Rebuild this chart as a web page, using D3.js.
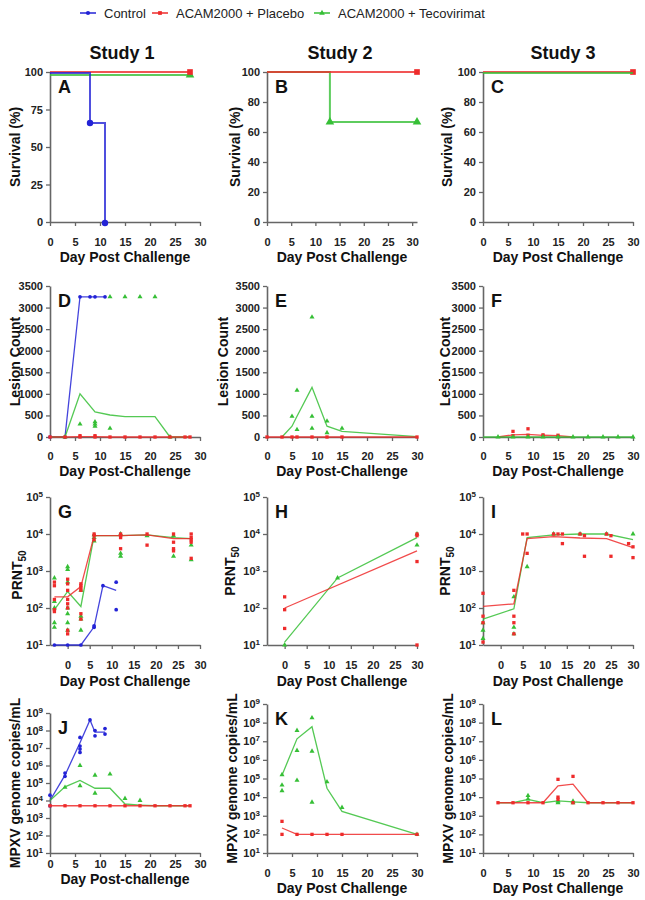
<!DOCTYPE html>
<html>
<head>
<meta charset="utf-8">
<script src="https://cdn.jsdelivr.net/npm/d3@7"></script>
<style>
body { margin: 0; background: #fff; }
text { font-family: "Liberation Sans", Arial, sans-serif; }
</style>
</head>
<body>
<div id="mainDiv"></div>
<script>
// ---- survival (% alive) ----
var s1Control = [[0, 100], [8, 66.7], [11, 0]];
var s1Placebo = [[0, 100], [28, 100]];
var s1Teco = [[0, 100], [28, 100]];
var s2Placebo = [[0, 100], [31, 100]];
var s2Teco = [[0, 100], [13, 66.7], [31, 66.7]];
var s3Placebo = [[0, 100], [30, 100]];
var s3Teco = [[0, 100], [30, 100]];

// ---- lesion counts ----
var d1ControlMean = [[0, 0], [3, 0], [6, 3250], [8, 3250], [9, 3250], [11, 3250]];
var d1ControlDots = [[0, 0], [3, 0], [6, 3250], [8, 3250], [9, 3250], [11, 3250]];
var d1PlaceboMean = [[0, 0], [3, 0], [6, 10], [9, 10], [12, 0], [15, 0], [18, 0], [21, 0], [24, 0], [27, 0], [28, 0]];
var d1PlaceboDots = [[0, 0], [3, 0], [6, 30], [6, 0], [9, 30], [9, 0], [12, 0], [15, 0], [18, 0], [21, 0], [24, 0], [27, 0], [28, 0]];
var d1TecoMean = [[0, 0], [3, 0], [6, 1000], [9, 580], [12, 510], [15, 470], [18, 470], [21, 470], [24, 0], [27, 0], [28, 0]];
var d1TecoDots = [[3, 0], [6, 300], [9, 350], [9, 300], [9, 250], [12, 200], [12, 3250], [15, 3250], [18, 3250], [21, 3250], [24, 0]];

var e2PlaceboMean = [[0, 0], [3, 0], [5, 0], [6, 0], [9, 0], [12, 0], [15, 0], [30, 0]];
var e2PlaceboDots = [[0, 0], [3, 0], [5, 0], [6, 0], [9, 0], [12, 0], [15, 0], [30, 0]];
var e2TecoMean = [[3, 0], [5, 250], [6, 480], [9, 1150], [12, 250], [15, 130], [30, 10]];
var e2TecoDots = [[5, 480], [6, 1080], [6, 170], [9, 2780], [9, 480], [9, 200], [12, 370], [12, 100], [15, 200]];

var f3PlaceboMean = [[3, 0], [6, 50], [9, 60], [12, 40], [15, 30], [18, 0]];
var f3PlaceboDots = [[6, 130], [6, 30], [9, 190], [9, 40], [12, 50], [12, 20], [15, 40], [15, 10]];
var f3TecoMean = [[0, 0], [3, 0], [6, 0], [9, 0], [12, 0], [15, 0], [18, 0], [21, 0], [24, 0], [27, 0], [30, 0]];
var f3TecoDots = [[3, 0], [6, 0], [9, 0], [12, 0], [15, 0], [18, 0], [21, 0], [24, 0], [27, 0], [30, 0]];

// ---- PRNT50 titres ----
var g1ControlMean = [[-3, 10], [0, 10], [3, 10], [6, 31], [8, 400], [11, 300]];
var g1ControlDots = [[-3, 10], [0, 10], [3, 10], [6, 30], [6, 33], [8, 400], [11, 500], [11, 90]];
var g1PlaceboMean = [[-3, 200], [0, 200], [3, 380], [6, 9000], [12, 9000], [18, 9500], [24, 7500], [28, 7500]];
var g1PlaceboDots = [[-3, 500], [-3, 400], [-3, 170], [-3, 90], [-3, 80], [0, 600], [0, 450], [0, 300], [0, 170],
  [0, 130], [0, 100], [0, 25], [0, 20], [3, 450], [3, 400], [3, 350], [3, 300], [3, 70], [3, 50],
  [6, 10000], [6, 9000], [6, 7000], [12, 10000], [12, 9000], [12, 8000], [12, 4000], [18, 10000], [18, 5000],
  [24, 10000], [24, 6000], [24, 4000], [24, 3500], [28, 10000], [28, 8000], [28, 7000], [28, 6000], [28, 2200]];
var g1TecoMean = [[-3, 90], [0, 280], [3, 110], [6, 9000], [12, 9000], [18, 9500], [24, 8000], [28, 7500]];
var g1TecoDots = [[-3, 650], [-3, 150], [-3, 100], [-3, 40], [-3, 30], [0, 1300], [0, 1100], [0, 500], [0, 100],
  [0, 70], [0, 40], [0, 25], [3, 300], [3, 60], [3, 50], [3, 25], [6, 9500], [6, 8000], [6, 6500],
  [12, 10000], [12, 3000], [12, 2500], [18, 9000], [24, 9000], [24, 2500], [28, 5000], [28, 2000]];

var h2PlaceboMean = [[0, 100], [30, 3500]];
var h2PlaceboDots = [[0, 200], [0, 90], [0, 28], [30, 10000], [30, 9000], [30, 1800], [30, 10]];
var h2TecoMean = [[0, 12], [12, 650], [30, 8000]];
var h2TecoDots = [[0, 10], [12, 650], [30, 10000], [30, 5000]];

var i3PlaceboMean = [[-4, 110], [3, 130], [6, 7500], [12, 8500], [18, 7800], [24, 7500], [30, 4300]];
var i3PlaceboDots = [[-4, 250], [-4, 60], [-4, 40], [-4, 12], [3, 300], [3, 60], [3, 40], [3, 20],
  [5, 10000], [6, 10000], [6, 3000], [12, 10000], [13, 10000], [14, 10000], [14, 5500], [18, 10000], [19, 9000],
  [19, 2500], [24, 10000], [25, 9000], [25, 2500], [29, 5500], [30, 4500], [30, 2300]];
var i3TecoMean = [[-4, 50], [3, 95], [6, 8000], [12, 9500], [18, 10000], [24, 10000], [30, 7000]];
var i3TecoDots = [[-4, 40], [-4, 25], [-4, 15], [3, 200], [3, 30], [3, 20], [6, 1300], [12, 10000],
  [18, 10000], [24, 10000], [30, 10000]];

// ---- MPXV genome copies/mL ----
var j1ControlMean = [[0, 10000], [3, 280000], [6, 2e7], [8, 4e8], [9, 8e7], [11, 8e7]];
var j1ControlDots = [[0, 20000], [0, 5000], [3, 370000], [3, 240000], [6, 4e7], [6, 1.3e7], [6, 8.7e6], [6, 5.6e6],
  [8, 4e8], [9, 1e8], [9, 5e7], [11, 1.3e8], [11, 6.3e7]];
var j1PlaceboMean = [[0, 5000], [3, 5000], [6, 5000], [9, 5000], [12, 5000], [15, 5000], [18, 5000], [21, 5000], [24, 5000], [27, 5000], [28, 5000]];
var j1PlaceboDots = [[0, 5000], [3, 5000], [6, 5000], [9, 5000], [12, 5000], [15, 5000], [18, 5000], [21, 5000], [24, 5000], [27, 5000], [28, 5000]];
var j1TecoMean = [[0, 10000], [3, 60000], [6, 140000], [9, 50000], [12, 50000], [15, 6300], [18, 5500], [21, 5000], [24, 5000], [27, 5000], [28, 5000]];
var j1TecoDots = [[3, 56000], [6, 1e6], [6, 70000], [9, 280000], [9, 26000], [12, 320000], [15, 13000], [18, 10000]];

var k2PlaceboMean = [[3, 220], [6, 100], [9, 100], [12, 100], [15, 100], [30, 100]];
var k2PlaceboDots = [[3, 500], [3, 100], [6, 100], [9, 100], [12, 100], [15, 100], [30, 100]];
var k2TecoMean = [[3, 150000], [6, 1.35e7], [9, 6e7], [12, 30000], [15, 1700], [30, 100]];
var k2TecoDots = [[3, 160000], [3, 44000], [3, 22000], [6, 3.8e7], [6, 3.2e6], [6, 80000], [9, 1.8e8], [9, 2.9e6],
  [9, 5300], [12, 66000], [15, 2800], [30, 100]];

var l3PlaceboMean = [[3, 5000], [6, 5000], [9, 5000], [12, 5000], [15, 40000], [18, 50000], [21, 5000], [24, 5000], [27, 5000], [30, 5000]];
var l3PlaceboDots = [[3, 5000], [6, 5000], [9, 5000], [12, 5000], [15, 90000], [15, 10000], [15, 7600], [18, 130000],
  [18, 5000], [21, 5000], [24, 5000], [27, 5000], [30, 5000]];
var l3TecoMean = [[3, 5000], [6, 5000], [9, 7600], [12, 5000], [15, 6300], [18, 5500], [21, 5000], [24, 5000], [27, 5000], [30, 5000]];
var l3TecoDots = [[9, 12000], [9, 8000], [15, 6000], [15, 5000], [18, 6000], [18, 5000]];

// ---- labels ----
var groupNames = ["Control", "ACAM2000 + Placebo", "ACAM2000 + Tecovirimat"];
var studyNames = ["Study 1", "Study 2", "Study 3"];
var dayTicks = [0, 5, 10, 15, 20, 25, 30];
var survTicksA = [0, 25, 50, 75, 100];
var survTicksBC = [0, 20, 40, 60, 80, 100];
var lesionTicks = [0, 500, 1000, 1500, 2000, 2500, 3000, 3500];
var prntTicks = [1e1, 1e2, 1e3, 1e4, 1e5];
var copyTicks = [1e1, 1e2, 1e3, 1e4, 1e5, 1e6, 1e7, 1e8, 1e9];

var colors = { c: "#2323d6", p: "#ee2b2b", t: "#36bf36" };
var shapes = { c: d3.symbolCircle, p: d3.symbolSquare, t: d3.symbolTriangle };

var mainDiv = d3.select("#mainDiv");
var mySvg = mainDiv.append("svg")
                   .attr("width", 645)
                   .attr("height", 900);

var colLeft = [50, 267, 483];

// legend
var legX = [80, 152, 314];
groupNames.forEach(function (name, i) {
    var k = ["c", "p", "t"][i];
    mySvg.append("line")
         .attr("x1", legX[i]).attr("x2", legX[i] + 16)
         .attr("y1", 13).attr("y2", 13)
         .attr("stroke", colors[k]).attr("stroke-width", 1.5);
    mySvg.append("path")
         .attr("d", d3.symbol().type(shapes[k]).size(14)())
         .attr("transform", "translate(" + (legX[i] + 8) + ",13)")
         .attr("fill", colors[k]);
    mySvg.append("text")
         .text(name)
         .attr("x", legX[i] + 24)
         .attr("y", 18)
         .attr("font-size", 13)
         .attr("fill", "#222");
});

// study titles
[122, 340, 563].forEach(function (cx, i) {
    mySvg.append("text")
         .text(studyNames[i])
         .attr("x", cx).attr("y", 59)
         .attr("text-anchor", "middle")
         .attr("font-size", 18).attr("font-weight", "bold")
         .attr("fill", "#111");
});

function styleAxis(sel) {
    sel.select(".domain").attr("stroke", "#666").attr("stroke-width", 1.6);
    sel.selectAll(".tick line").attr("stroke", "#666").attr("stroke-width", 1.3);
    sel.selectAll(".tick text")
       .attr("fill", "#222").attr("font-size", 11).attr("font-weight", "bold")
       .attr("font-family", "Liberation Sans, Arial, sans-serif");
}

function supLabels(sel) {
    sel.selectAll(".tick text").each(function (d) {
        var t = d3.select(this);
        t.text(null);
        t.append("tspan").text("10");
        t.append("tspan").attr("dy", "-0.5em").attr("font-size", 8).text(Math.round(Math.log10(d)));
    });
}

function drawPanel(p) {
    var left = colLeft[p.col];
    var x = d3.scaleLinear().domain(p.xDom).range([left, left + 150]);
    var y = (p.log ? d3.scaleLog() : d3.scaleLinear()).domain(p.yDom).range([p.bottom, p.top]);

    var xg = mySvg.append("g")
                  .attr("transform", "translate(0," + p.bottom + ")")
                  .call(d3.axisBottom(x).tickValues(dayTicks).tickSize(4).tickSizeOuter(0).tickPadding(p.xPad));
    styleAxis(xg);

    var ya = d3.axisLeft(y).tickValues(p.yTicks).tickSize(4).tickSizeOuter(0).tickPadding(3);
    if (!p.log) ya.tickFormat(d3.format("d"));
    var yg = mySvg.append("g")
                  .attr("transform", "translate(" + left + ",0)")
                  .call(ya);
    styleAxis(yg);
    if (p.log) supLabels(yg);

    // axis titles
    mySvg.append("text")
         .text(p.xTitle)
         .attr("x", left + 75).attr("y", p.bottom + p.xTitleOff)
         .attr("text-anchor", "middle")
         .attr("font-size", 14).attr("font-weight", "bold").attr("fill", "#111");

    var yt = mySvg.append("text")
                  .attr("transform", "translate(" + p.yTitleX + "," + ((p.top + p.bottom) / 2 + (p.yTitleDy || 0)) + ") rotate(-90)")
                  .attr("text-anchor", "middle")
                  .attr("font-size", 14).attr("font-weight", "bold").attr("fill", "#111");
    if (p.yTitle === "PRNT50") {
        yt.append("tspan").text("PRNT");
        yt.append("tspan").attr("dy", "0.35em").attr("font-size", 10).text("50");
    } else {
        yt.text(p.yTitle);
    }

    // panel letter
    mySvg.append("text")
         .text(p.letter)
         .attr("x", left + 8).attr("y", p.top + 21)
         .attr("font-size", 18).attr("font-weight", "bold").attr("fill", "#111");

    // series
    p.series.forEach(function (s) {
        var off = s.off || 0;
        var ln = d3.line().x(function (d) { return x(d[0]); })
                          .y(function (d) { return y(d[1]) + off; });
        if (p.surv) ln.curve(d3.curveStepAfter);
        if (s.line) {
            mySvg.append("path")
                 .datum(s.line)
                 .attr("d", ln)
                 .attr("fill", "none")
                 .attr("stroke", colors[s.k])
                 .attr("stroke-width", p.surv ? 2 : 1.3)
                 .attr("stroke-opacity", p.surv ? 0.8 : 0.85);
        }
        if (s.dots) {
            mySvg.selectAll(null)
                 .data(s.dots)
                 .enter().append("path")
                 .attr("d", d3.symbol().type(shapes[s.k]).size(p.surv ? 32 : 11))
                 .attr("transform", function (d) { return "translate(" + x(d[0]) + "," + (y(d[1]) + off) + ")"; })
                 .attr("fill", colors[s.k]);
        }
    });
}

var panels = [
    { letter: "A", col: 0, top: 72, bottom: 222, xDom: [0, 30], yDom: [0, 100], yTicks: survTicksA, surv: true,
      xPad: 12, xTitleOff: 40, xTitle: "Day Post Challenge", yTitle: "Survival (%)", yTitleX: 20,
      series: [ { k: "t", line: s1Teco, dots: [s1Teco[1]], off: 3 },
                { k: "p", line: s1Placebo, dots: [s1Placebo[1]] },
                { k: "c", line: s1Control, dots: s1Control.slice(1), off: 1 } ] },
    { letter: "B", col: 1, top: 72, bottom: 222, xDom: [0, 31], yDom: [0, 100], yTicks: survTicksBC, surv: true,
      xPad: 12, xTitleOff: 40, xTitle: "Day Post Challenge", yTitle: "Survival (%)", yTitleX: 240,
      series: [ { k: "t", line: s2Teco, dots: s2Teco.slice(1) },
                { k: "p", line: s2Placebo, dots: [s2Placebo[1]] } ] },
    { letter: "C", col: 2, top: 72, bottom: 222, xDom: [0, 30], yDom: [0, 100], yTicks: survTicksBC, surv: true,
      xPad: 12, xTitleOff: 40, xTitle: "Day Post Challenge", yTitle: "Survival (%)", yTitleX: 452,
      series: [ { k: "p", line: s3Placebo, dots: [s3Placebo[1]] },
                { k: "t", line: s3Teco, off: 1 } ] },

    { letter: "D", col: 0, top: 286, bottom: 437, xDom: [0, 30], yDom: [0, 3500], yTicks: lesionTicks,
      xPad: 11, xTitleOff: 39, xTitle: "Day Post-Challenge", yTitle: "Lesion Count", yTitleX: 20,
      series: [ { k: "c", line: d1ControlMean, dots: d1ControlDots },
                { k: "t", line: d1TecoMean, dots: d1TecoDots },
                { k: "p", line: d1PlaceboMean, dots: d1PlaceboDots } ] },
    { letter: "E", col: 1, top: 286, bottom: 437, xDom: [0, 30], yDom: [0, 3500], yTicks: lesionTicks,
      xPad: 11, xTitleOff: 39, xTitle: "Day Post-Challenge", yTitle: "Lesion Count", yTitleX: 228,
      series: [ { k: "t", line: e2TecoMean, dots: e2TecoDots },
                { k: "p", line: e2PlaceboMean, dots: e2PlaceboDots } ] },
    { letter: "F", col: 2, top: 286, bottom: 437, xDom: [0, 30], yDom: [0, 3500], yTicks: lesionTicks,
      xPad: 11, xTitleOff: 39, xTitle: "Day Post-Challenge", yTitle: "Lesion Count", yTitleX: 450,
      series: [ { k: "p", line: f3PlaceboMean, dots: f3PlaceboDots },
                { k: "t", line: f3TecoMean, dots: f3TecoDots } ] },

    { letter: "G", col: 0, top: 497, bottom: 645, xDom: [-4, 30], yDom: [10, 1e5], yTicks: prntTicks, log: true,
      xPad: 12, xTitleOff: 41, xTitle: "Day Post Challenge", yTitle: "PRNT50", yTitleX: 22, yTitleDy: 4,
      series: [ { k: "c", line: g1ControlMean, dots: g1ControlDots },
                { k: "t", line: g1TecoMean, dots: g1TecoDots },
                { k: "p", line: g1PlaceboMean, dots: g1PlaceboDots } ] },
    { letter: "H", col: 1, top: 497, bottom: 645, xDom: [-4, 30], yDom: [10, 1e5], yTicks: prntTicks, log: true,
      xPad: 12, xTitleOff: 41, xTitle: "Day Post Challenge", yTitle: "PRNT50", yTitleX: 235, yTitleDy: 0,
      series: [ { k: "t", line: h2TecoMean, dots: h2TecoDots },
                { k: "p", line: h2PlaceboMean, dots: h2PlaceboDots } ] },
    { letter: "I", col: 2, top: 497, bottom: 645, xDom: [-4, 30], yDom: [10, 1e5], yTicks: prntTicks, log: true,
      xPad: 12, xTitleOff: 41, xTitle: "Day Post Challenge", yTitle: "PRNT50", yTitleX: 450, yTitleDy: 0,
      series: [ { k: "t", line: i3TecoMean, dots: i3TecoDots },
                { k: "p", line: i3PlaceboMean, dots: i3PlaceboDots } ] },

    { letter: "J", col: 0, top: 713, bottom: 853, xDom: [0, 30], yDom: [10, 1e9], yTicks: copyTicks, log: true,
      xPad: 3, xTitleOff: 31, xTitle: "Day Post-challenge", yTitle: "MPXV genome copies/mL", yTitleX: 20,
      series: [ { k: "c", line: j1ControlMean, dots: j1ControlDots },
                { k: "t", line: j1TecoMean, dots: j1TecoDots },
                { k: "p", line: j1PlaceboMean, dots: j1PlaceboDots } ] },
    { letter: "K", col: 1, top: 704, bottom: 853, xDom: [0, 30], yDom: [10, 1e9], yTicks: copyTicks, log: true,
      xPad: 12, xTitleOff: 40, xTitle: "Day Post Challenge", yTitle: "MPXV genome copies/mL", yTitleX: 237,
      series: [ { k: "t", line: k2TecoMean, dots: k2TecoDots },
                { k: "p", line: k2PlaceboMean, dots: k2PlaceboDots } ] },
    { letter: "L", col: 2, top: 704, bottom: 853, xDom: [0, 30], yDom: [10, 1e9], yTicks: copyTicks, log: true,
      xPad: 12, xTitleOff: 40, xTitle: "Day Post Challenge", yTitle: "MPXV genome copies/mL", yTitleX: 453,
      series: [ { k: "t", line: l3TecoMean, dots: l3TecoDots },
                { k: "p", line: l3PlaceboMean, dots: l3PlaceboDots } ] }
];

panels.forEach(drawPanel);
</script>
</body>
</html>
